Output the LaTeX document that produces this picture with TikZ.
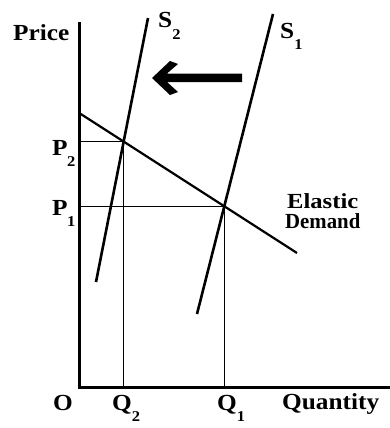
\documentclass[tikz,border=0pt]{standalone}
\usepackage{fontspec}
\setmainfont[FakeStretch=1.1]{Liberation Serif}
\usetikzlibrary{intersections}
\newcommand{\sbs}[1]{\raisebox{-0.5em}{\fontsize{15}{15}\selectfont #1}}
\begin{document}
\begin{tikzpicture}[x=1pt,y=-1pt,
  lbl/.style={anchor=base west, inner sep=0pt, font=\fontsize{23}{23}\selectfont\bfseries},
  sub/.style={anchor=base west, inner sep=0pt, font=\fontsize{15}{15}\selectfont\bfseries},
  small/.style={anchor=base west, inner sep=0pt, font=\fontsize{21.5}{21.5}\selectfont\bfseries},
  axis/.style={line width=3pt, line join=miter},
  guide/.style={line width=1.2pt},
  supply/.style={line width=2.6pt},
  demand/.style={line width=2.2pt}]
\path[use as bounding box] (0,0) rectangle (390,428);
% axes
\coordinate (O) at (79,387);
\coordinate (ytop) at (79,22);
\coordinate (xend) at (390,387);
\draw[axis] (ytop) -- (O) -- (xend);
% demand
\coordinate (d1) at (80,113.5);
\coordinate (d2) at (297,253);
\draw[demand, name path=D] (d1) -- (d2);
% supplies
\coordinate (s2t) at (148,18);
\coordinate (s2b) at (96,282);
\coordinate (s1t) at (273,14);
\coordinate (s1b) at (197,314);
\draw[supply, name path=S2] (s2t) -- (s2b);
\draw[supply, name path=S1] (s1t) -- (s1b);
\path[name intersections={of=D and S2, by=E2}];
\path[name intersections={of=D and S1, by=E1}];
% guides
\draw[guide] (O |- E2) -- (E2) -- (E2 |- O);
\draw[guide] (O |- E1) -- (E1) -- (E1 |- O);
% shift arrow
\fill (152,78) -- (170,61) -- (178,64) -- (167,73.5) -- (242,73.5) -- (242,82) -- (167,82) -- (178,92) -- (170,95) -- cycle;
% labels
\node[lbl] (price) at (13,41) {Price};
\node[lbl] (p2) at (52,155) {P};
\node[sub] (p2s) at (67,166) {2};
\node[lbl] (p1) at (52,215) {P};
\node[sub] (p1s) at (67,226.5) {1};
\node[lbl] (s2l) at (158,28) {S\sbs{2}};
\node[lbl] (s1l) at (280,38) {S\sbs{1}};
\node[lbl] (ol) at (53,410) {O};
\node[lbl] (q2) at (112,410) {Q\sbs{2}};
\node[lbl] (q1) at (217,410) {Q\sbs{1}};
\node[lbl] (qty) at (282,409) {Quantity};
\node[small] (el) at (287,208) {\scalebox{1.04}[1]{Elastic}};
\node[small] (dm) at (285,228) {\scalebox{0.88}[1]{Demand}};
\end{tikzpicture}
\end{document}
